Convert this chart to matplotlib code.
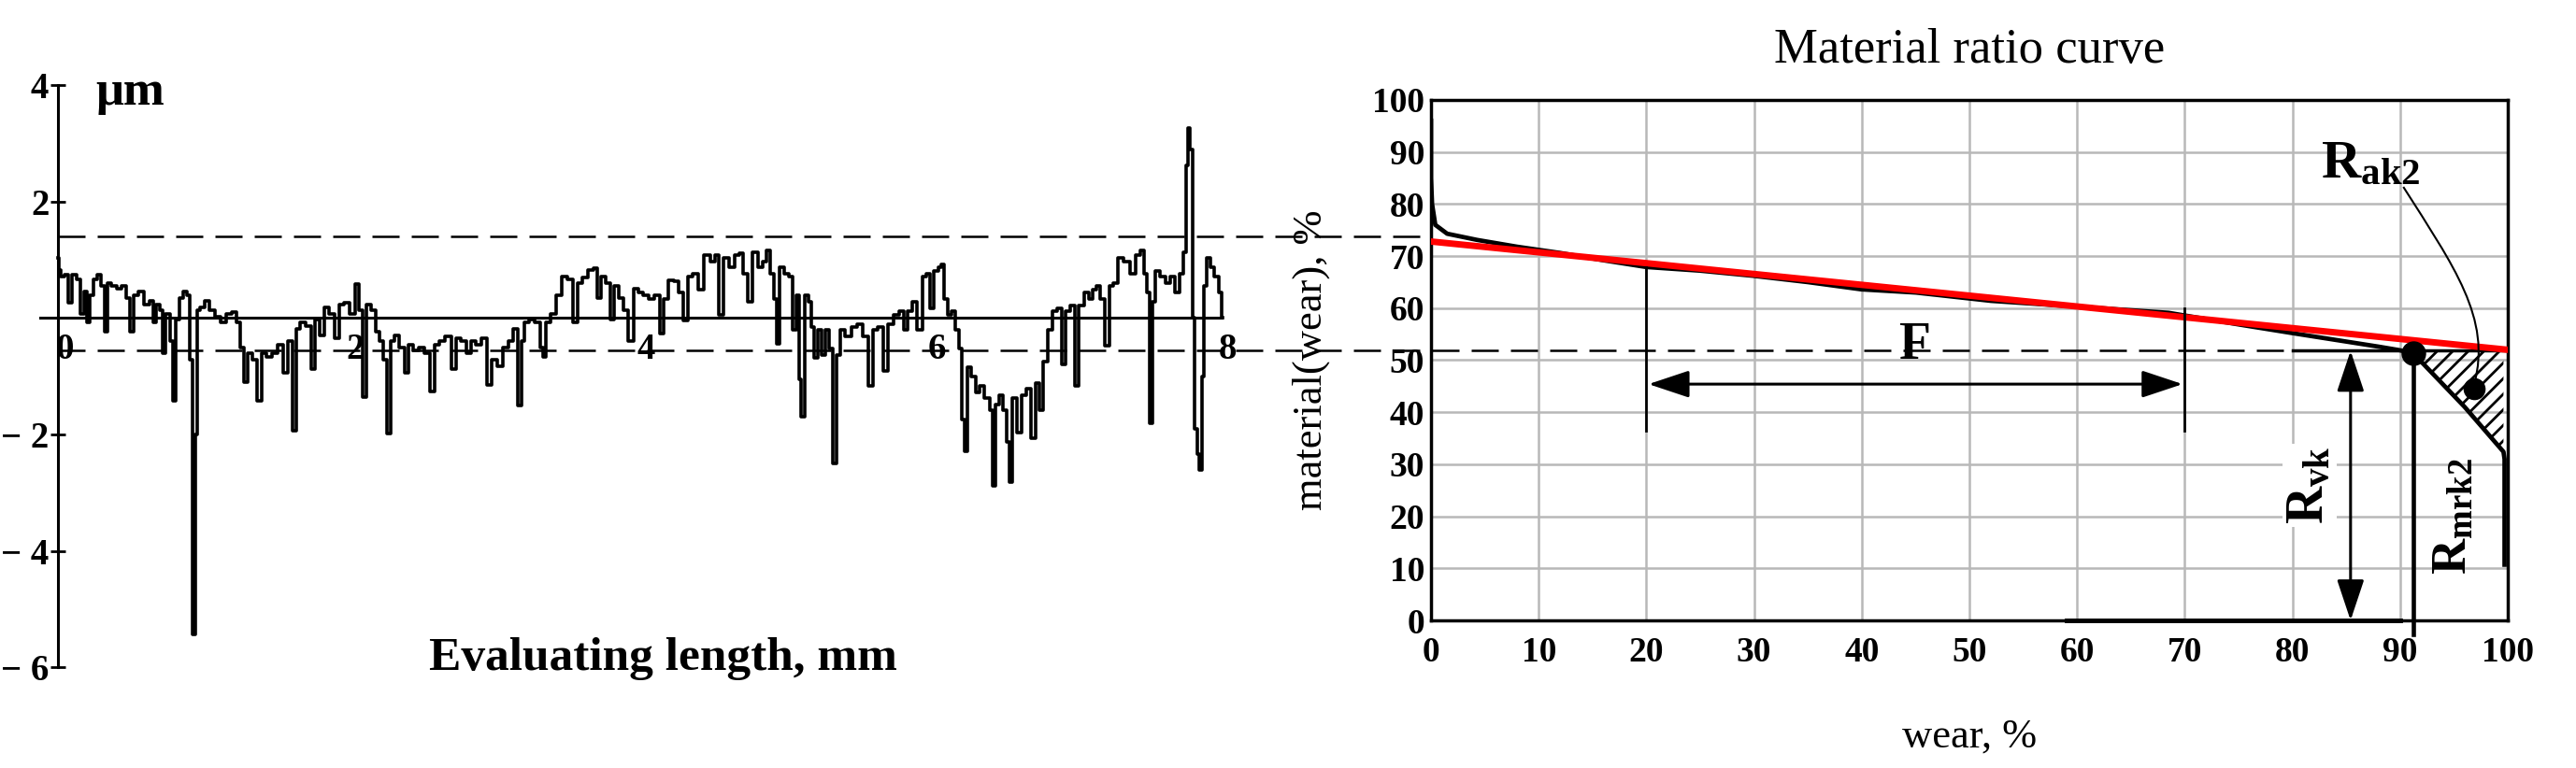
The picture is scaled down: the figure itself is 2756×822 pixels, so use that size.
import matplotlib
matplotlib.use('Agg')
import matplotlib.pyplot as plt
from matplotlib.lines import Line2D
from matplotlib.path import Path
from matplotlib.patches import PathPatch
from matplotlib.transforms import blended_transform_factory, ScaledTranslation

plt.rcParams['font.family'] = ['Liberation Serif', 'DejaVu Serif']
plt.rcParams['mathtext.fontset'] = 'custom'
plt.rcParams['mathtext.rm'] = 'Liberation Serif'
plt.rcParams['mathtext.bf'] = 'Liberation Serif:bold'
plt.rcParams['hatch.linewidth'] = 2.0

# ---- roughness profile, mm / um
prof_x = [0.0, 0.007, 0.034, 0.060, 0.086, 0.112, 0.139, 0.165, 0.191, 0.204,
          0.230, 0.257, 0.283, 0.309, 0.330, 0.348, 0.388, 0.427, 0.453, 0.480,
          0.506, 0.532, 0.571, 0.611, 0.650, 0.663, 0.689, 0.716, 0.729, 0.755,
          0.781, 0.802, 0.821, 0.847, 0.873, 0.899, 0.918, 0.933, 0.952, 0.965,
          0.991, 1.030, 1.057, 1.096, 1.135, 1.175, 1.214, 1.240, 1.267, 1.293,
          1.319, 1.358, 1.385, 1.411, 1.450, 1.490, 1.529, 1.568, 1.594, 1.626,
          1.647, 1.686, 1.726, 1.757, 1.778, 1.817, 1.844, 1.883, 1.922, 1.949,
          1.988, 2.027, 2.059, 2.080, 2.114, 2.132, 2.172, 2.198, 2.224, 2.250,
          2.277, 2.303, 2.329, 2.368, 2.395, 2.421, 2.460, 2.500, 2.539, 2.578,
          2.604, 2.644, 2.683, 2.723, 2.749, 2.788, 2.827, 2.854, 2.893, 2.932,
          2.972, 2.998, 3.037, 3.077, 3.116, 3.147, 3.174, 3.195, 3.221, 3.260,
          3.300, 3.326, 3.347, 3.365, 3.405, 3.444, 3.483, 3.523, 3.562, 3.588,
          3.627, 3.667, 3.693, 3.719, 3.746, 3.785, 3.811, 3.837, 3.877, 3.903,
          3.942, 3.982, 4.005, 4.044, 4.083, 4.123, 4.149, 4.175, 4.214, 4.254,
          4.280, 4.319, 4.345, 4.385, 4.424, 4.464, 4.503, 4.529, 4.561, 4.595,
          4.634, 4.673, 4.700, 4.726, 4.765, 4.791, 4.831, 4.857, 4.883, 4.910,
          4.936, 4.954, 4.975, 5.014, 5.041, 5.067, 5.085, 5.106, 5.119, 5.146,
          5.172, 5.190, 5.211, 5.237, 5.264, 5.290, 5.316, 5.342, 5.369, 5.395,
          5.434, 5.474, 5.513, 5.552, 5.592, 5.618, 5.657, 5.697, 5.723, 5.762,
          5.801, 5.828, 5.854, 5.893, 5.925, 5.959, 5.985, 6.011, 6.038, 6.064,
          6.082, 6.103, 6.129, 6.156, 6.182, 6.203, 6.224, 6.247, 6.260, 6.300,
          6.326, 6.352, 6.392, 6.418, 6.434, 6.457, 6.483, 6.510, 6.536, 6.549,
          6.575, 6.607, 6.641, 6.680, 6.706, 6.733, 6.759, 6.785, 6.825, 6.851,
          6.890, 6.916, 6.943, 6.982, 7.008, 7.034, 7.074, 7.100, 7.126, 7.152,
          7.179, 7.218, 7.244, 7.270, 7.310, 7.349, 7.389, 7.428, 7.462, 7.480,
          7.499, 7.514, 7.533, 7.559, 7.598, 7.638, 7.664, 7.690, 7.730, 7.748,
          7.761, 7.777, 7.795, 7.808, 7.821, 7.842, 7.855, 7.874, 7.887, 7.913,
          7.939, 7.966, 7.992, 8.005]
prof_y = [1.04, 0.83, 0.72, 0.75, 0.27, 0.75, 0.67, 0.08, 0.45, -0.08,
          0.40, 0.67, 0.75, 0.56, -0.24, 0.61, 0.56, 0.51, 0.56, 0.35,
          -0.24, 0.40, 0.45, 0.24, 0.29, -0.08, 0.24, 0.13, -0.61, 0.08,
          -0.40, -1.42, -0.03, 0.35, 0.45, 0.40, -0.72, -5.43, -2.00, 0.13,
          0.19, 0.29, 0.13, 0.03, -0.08, 0.08, 0.11, -0.08, -0.51, -1.10,
          -0.61, -0.72, -1.42, -0.61, -0.67, -0.61, -0.45, -0.94, -0.40, -1.93,
          -0.19, -0.08, -0.13, -0.88, -0.03, -0.29, 0.19, 0.08, -0.35, 0.24,
          0.27, 0.08, 0.59, 0.13, -1.36, 0.24, 0.13, -0.24, -0.40, -0.72,
          -1.98, -0.40, -0.29, -0.51, -0.94, -0.45, -0.56, -0.51, -0.61, -1.26,
          -0.45, -0.40, -0.32, -0.88, -0.35, -0.40, -0.61, -0.40, -0.45, -0.35,
          -1.15, -0.72, -0.83, -0.51, -0.40, -0.19, -1.50, -0.40, -0.08, -0.03,
          -0.08, -0.51, -0.67, -0.08, 0.08, 0.40, 0.72, 0.67, -0.08, 0.61,
          0.70, 0.83, 0.86, 0.35, 0.72, 0.61, -0.03, 0.56, 0.35, 0.13,
          -0.40, 0.51, 0.44, 0.39, 0.33, 0.39, -0.26, 0.33, 0.65, 0.63,
          0.44, -0.04, 0.71, 0.76, 0.49, 1.08, 0.97, 1.08, 0.06, 1.03,
          0.87, 1.08, 1.11, 0.76, 0.28, 1.13, 0.87, 0.97, 1.16, 0.76,
          0.33, -0.44, 0.87, 0.76, 0.71, -0.20, 0.39, -1.06, -1.70, 0.39,
          0.28, -0.15, -0.68, -0.20, -0.63, -0.20, -0.52, -2.50, -0.63, -0.20,
          -0.31, -0.15, -0.10, -0.31, -1.17, -0.20, -0.15, -0.90, -0.10, 0.06,
          0.12, -0.20, 0.12, 0.28, -0.20, 0.71, 0.76, 0.17, 0.81, 0.87,
          0.92, 0.33, 0.06, 0.12, -0.20, -0.52, -1.75, -2.29, -0.84, -1.00,
          -1.27, -1.17, -1.38, -1.59, -2.88, -1.49, -1.33, -1.59, -2.13, -2.82,
          -1.38, -1.97, -1.33, -1.22, -2.07, -1.11, -1.59, -0.74, -0.20, 0.12,
          0.17, -0.79, 0.12, 0.22, -1.17, 0.22, 0.44, 0.33, 0.49, 0.55,
          0.33, -0.47, 0.55, 0.60, 1.03, 0.97, 0.76, 1.08, 1.16, 0.76,
          0.44, -1.81, 0.28, 0.81, 0.71, 0.60, 0.71, 0.44, 0.76, 1.13,
          2.63, 3.27, 2.90, 0.00, -1.91, -2.34, -2.61, -1.00, 0.55, 1.03,
          0.87, 0.71, 0.44, 0.00]
prof_xticks = [0, 2, 4, 6, 8]
prof_yticks = [-6, -4, -2, 2, 4]
prof_ytick_labels = ['\u2212 6', '\u2212 4', '\u2212 2', '2', '4']
upper_level = 1.41     # um, dashed line joining both charts
lower_level = -0.55

# ---- material ratio curve, %
wear = [0, 0, 0.1, 0.4, 1.5, 4.3, 8, 12, 16, 20, 25, 30, 35, 40, 45, 52, 60,
        68.5, 75.5, 80, 84, 88, 90, 91.2, 92.2, 96, 99.6, 99.7, 99.7]
material = [96, 85, 80, 76, 74.3, 73.1, 71.8, 70.6, 69.2, 67.9, 67.2, 66.2,
            65.0, 63.6, 63.0, 61.4, 60.3, 59.1, 56.7, 55.2, 53.9, 52.6, 51.9,
            51.3, 49.2, 41.0, 32.4, 31.0, 10.7]
fit_x = [0, 100]
fit_y = [72.8, 52.0]
ratio_ticks = list(range(0, 101, 10))
rk_level = 51.8
knee_pt = (91.2, 51.3)
ak2_pt = (96.9, 44.6)

W, H = 2756, 822
fig = plt.figure(figsize=(W / 100, H / 100), dpi=100)


def px_axes(x0, y0, x1, y1):
    # box given in pixels, origin top-left
    return fig.add_axes([x0 / W, 1 - y1 / H, (x1 - x0) / W, (y1 - y0) / H])


# ================= left: profile
ax1 = px_axes(30.9, 79.05, 1337.9, 726.45)
ax1.patch.set_visible(False)
ax1.plot(prof_x, prof_y, color='black', lw=2.6, drawstyle='steps-mid')
ax1.set_xlim(-0.2, 8.2)
ax1.set_ylim(-6.2, 4.2)
for s in ['top', 'right']:
    ax1.spines[s].set_visible(False)
ax1.spines['left'].set_position(('data', 0))
ax1.spines['left'].set_bounds(-6, 4)
ax1.spines['bottom'].set_position(('data', 0))
ax1.spines['bottom'].set_bounds(-0.12, 8)
ax1.spines['left'].set_linewidth(2.2)
ax1.spines['bottom'].set_linewidth(2.2)
ax1.set_yticks(prof_yticks)
ax1.set_yticklabels(prof_ytick_labels, fontweight='bold')
ax1.set_xticks(prof_xticks)
ax1.set_xticklabels([str(t) for t in prof_xticks], fontweight='bold')
ax1.tick_params(axis='y', direction='inout', length=12, width=2, pad=1, labelsize=28)
ax1.tick_params(axis='x', length=0, pad=11, labelsize=28)
shift = ScaledTranslation(7 / 100, 0, fig.dpi_scale_trans)
for lab in ax1.get_xticklabels():
    lab.set_transform(lab.get_transform() + shift)
ax1.text(0.26, 3.67, '\u03bcm', fontsize=38, fontweight='bold', ha='left', va='baseline')
ax1.text(4.16, -6.05, 'Evaluating length, mm', fontsize=37, fontweight='bold',
         ha='center', va='baseline')

# ================= right: material ratio curve
ax2 = px_axes(1531, 107, 2683, 664)
ax2.set_xlim(0, 100)
ax2.set_ylim(0, 100)
ax2.set_xticks(ratio_ticks)
ax2.set_yticks(ratio_ticks)
ax2.set_xticklabels([str(t) for t in ratio_ticks], fontweight='bold')
ax2.set_yticklabels([str(t) for t in ratio_ticks], fontweight='bold')
ax2.grid(True, color='#b8b8b8', lw=1.8)
ax2.set_axisbelow(True)
ax2.tick_params(axis='x', length=0, pad=12, labelsize=27)
ax2.tick_params(axis='y', length=0, pad=5, labelsize=27)
for s in ax2.spines.values():
    s.set_linewidth(2.5)

ax2.plot(wear, material, color='black', lw=3.4, zorder=3)
ax2.plot(fit_x, fit_y, color='red', lw=5, zorder=4)

# hatched valley area (Rak2)
i0 = wear.index(knee_pt[0])
ax2.fill_between(wear[i0:-2], material[i0:-2], rk_level, facecolor='none',
                 edgecolor='black', hatch='//', lw=0, zorder=2)
ax2.plot([80, 100], [rk_level, rk_level], color='black', lw=2.5, zorder=3)
ax2.plot([59, 90], [0, 0], color='black', lw=3.5, clip_on=False, zorder=5)
ax2.plot([knee_pt[0], knee_pt[0]], [knee_pt[1], -2.7], color='black', lw=3.3,
         clip_on=False, zorder=5)
ax2.plot(*knee_pt, 'o', color='black', ms=18, zorder=6)
ax2.plot(*ak2_pt, 'o', color='black', ms=16, zorder=6)

# F : 20 .. 70 %
ax2.plot([20, 20], [67.9, 36.5], color='black', lw=2, zorder=5)
ax2.plot([70, 70], [60.0, 36.5], color='black', lw=2, zorder=5)
arr = dict(arrowstyle='<|-|>,head_length=0.9,head_width=0.3', mutation_scale=30,
           lw=2.2, color='black', shrinkA=0, shrinkB=0)
ax2.annotate('', xy=(20.2, 45.4), xytext=(69.8, 45.4), arrowprops=arr, zorder=5)
ax2.text(45, 50.3, 'F', fontsize=40, fontweight='bold', ha='center', va='baseline', zorder=6)

# Rvk
ax2.annotate('', xy=(85.4, 0), xytext=(85.4, rk_level), arrowprops=arr, zorder=5)
ax2.text(81.6, 26, r'$\mathbf{R_{vk}}$', fontsize=40, rotation=90, ha='center',
         va='center', bbox=dict(fc='white', ec='none', pad=2), zorder=5)
ax2.text(95.0, 20.1, r'$\mathbf{R_{mrk2}}$', fontsize=38, rotation=90, ha='center',
         va='center', zorder=5)

# Rak2 with leader
ax2.text(82.6, 85.1, r'$\mathbf{R_{ak2}}$', fontsize=42, ha='left', va='baseline', zorder=6)
leader = Path([(90.3, 83.3), (95, 68), (98.5, 58), (96.9, 45.5)],
              [Path.MOVETO, Path.CURVE4, Path.CURVE4, Path.CURVE4])
ax2.add_patch(PathPatch(leader, fc='none', ec='black', lw=1.5, zorder=6))

ax2.set_title('Material ratio curve', fontsize=38, y=1.072, pad=0)
ax2.set_xlabel('wear, %', fontsize=32)
ax2.xaxis.set_label_coords(0.5, -0.187)
ax2.set_ylabel('material(wear), %', fontsize=32)
ax2.yaxis.label.set_verticalalignment('center')
ax2.yaxis.set_label_coords(-0.111, 0.5)

# ================= dashed levels running across both charts
to_fig = fig.transFigure.inverted()


def fig_x(ax, xd):
    return to_fig.transform(ax.transData.transform((xd, 0)))[0]


bt = blended_transform_factory(fig.transFigure, ax1.transData)
dash = (0, (11.6, 5.2))
fig.add_artist(Line2D([fig_x(ax1, 0), fig_x(ax2, 0)], [upper_level, upper_level],
                      transform=bt, color='black', lw=1.8, ls=dash))
fig.add_artist(Line2D([fig_x(ax1, 0), fig_x(ax2, 80)], [lower_level, lower_level],
                      transform=bt, color='black', lw=1.8, ls=dash))

fig.savefig('out.png', dpi=100, facecolor='white')
